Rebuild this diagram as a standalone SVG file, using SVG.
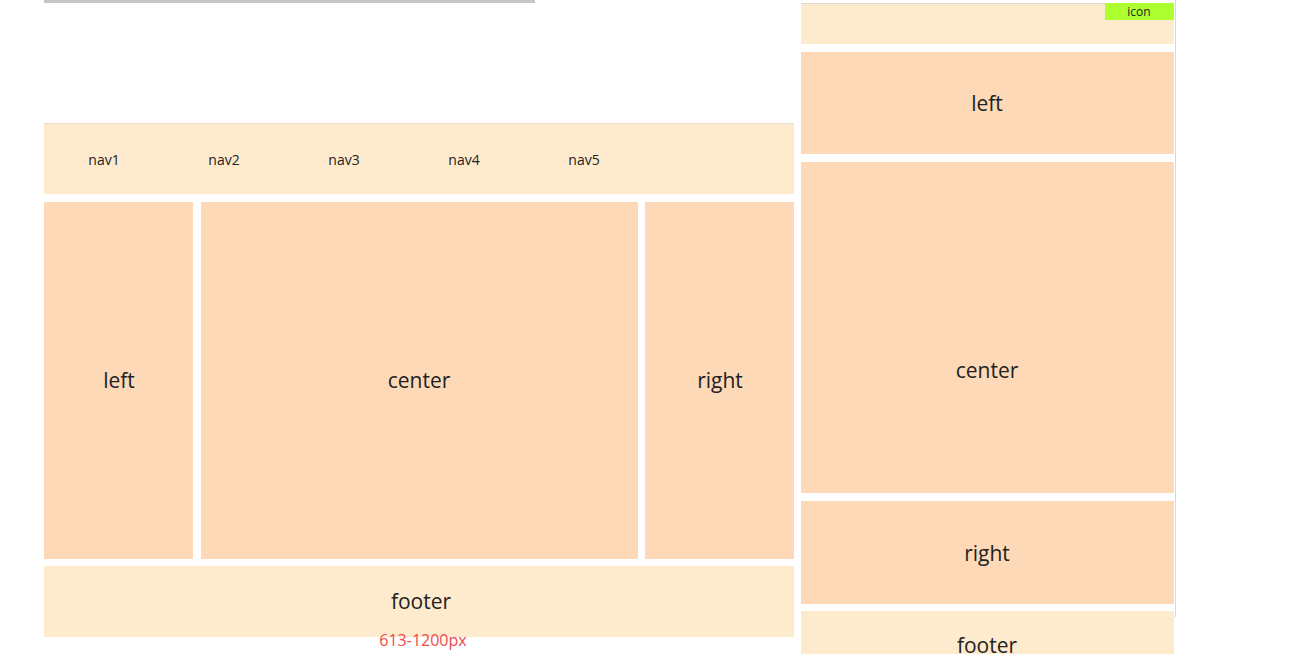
<svg xmlns="http://www.w3.org/2000/svg" width="1294" height="670" viewBox="0 0 1294 670">
<style>
.lt{fill:#feeacd}
.dk{fill:#fdd9b7}
.t{font-family:"Open Sans","Noto Sans","DejaVu Sans",sans-serif;fill:#222;text-anchor:middle;dominant-baseline:central}
.big{font-size:21px}
.nav{font-size:14px}
</style>
<defs><clipPath id="clipR"><rect x="801" y="0" width="375" height="654"/></clipPath></defs>
<rect width="1294" height="670" fill="#fff"/>
<rect id="topbar" x="44" y="0" width="491" height="3" fill="#c6c6c6"/>
<g id="wide-layout">
<g id="nav"><rect class="lt" x="44" y="123" width="750" height="71"/><line x1="44" y1="123.5" x2="794" y2="123.5" stroke="#eadccb" stroke-width="1"/>
<text class="t nav" x="104" y="159">nav1</text><text class="t nav" x="224" y="159">nav2</text><text class="t nav" x="344" y="159">nav3</text><text class="t nav" x="464" y="159">nav4</text><text class="t nav" x="584" y="159">nav5</text></g>
<g id="left"><rect class="dk" x="44" y="202" width="149" height="357"/><text class="t big" x="119" y="380">left</text></g>
<g id="center"><rect class="dk" x="201" y="202" width="437" height="357"/><text class="t big" x="419" y="380">center</text></g>
<g id="right"><rect class="dk" x="645" y="202" width="149" height="357"/><text class="t big" x="720" y="380">right</text></g>
<g id="footer"><rect class="lt" x="44" y="566" width="750" height="71"/><text class="t big" x="421" y="601">footer</text></g>
<text id="range" x="423" y="640" font-family="'Open Sans','Noto Sans',sans-serif" font-size="16" fill="#f04848" text-anchor="middle" dominant-baseline="central">613-1200px</text>
</g>
<g id="narrow-layout" clip-path="url(#clipR)">
<line x1="1175.5" y1="0" x2="1175.5" y2="617" stroke="#d8d8d8" stroke-width="1"/>
<g id="n-header"><rect class="lt" x="801" y="3" width="373" height="41"/><line x1="801" y1="3.5" x2="1174" y2="3.5" stroke="#e2d8cc" stroke-width="1"/>
<rect x="1105" y="3" width="69" height="17" fill="#adff2f"/><text class="t" x="1139" y="11" font-size="12">icon</text></g>
<g id="n-left"><rect class="dk" x="801" y="52" width="373" height="102"/><text class="t big" x="987" y="103">left</text></g>
<g id="n-center"><rect class="dk" x="801" y="162" width="373" height="331"/><text class="t big" x="987" y="370">center</text></g>
<g id="n-right"><rect class="dk" x="801" y="501" width="373" height="103"/><text class="t big" x="987" y="553">right</text></g>
<g id="n-footer"><rect class="lt" x="801" y="611" width="373" height="43"/><text class="t big" x="987" y="645">footer</text></g>
</g>
<g id="connectors"/>
</svg>
